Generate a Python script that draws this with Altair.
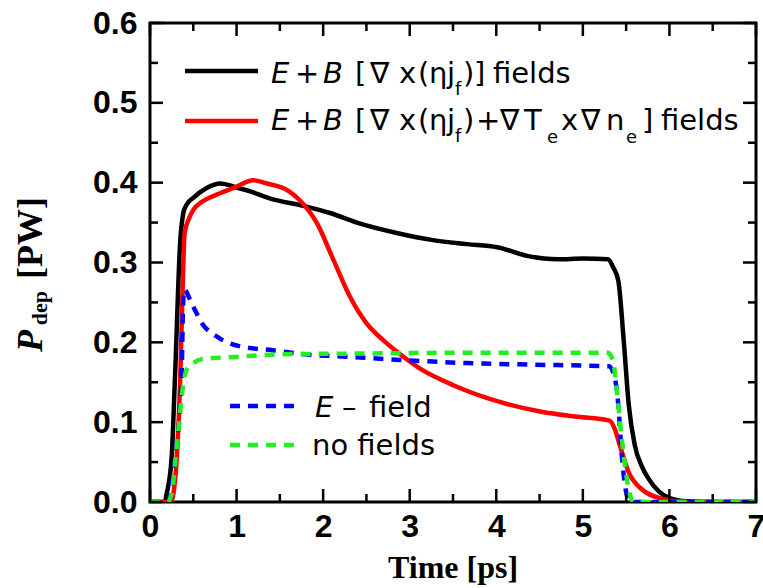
import altair as alt
import pandas as pd

# ---- data ----
t_black = [0, 0.17, 0.19, 0.25, 0.29, 0.35, 0.385, 0.42, 0.5, 0.65, 0.81, 1.0, 1.16, 1.39, 1.77, 2.08,
           2.39, 2.85, 3.27, 3.66, 4.01, 4.37, 4.71, 5.0, 5.29, 5.35, 5.41, 5.47, 5.53, 5.60, 5.68,
           5.76, 5.88, 6.0, 6.2, 6.5, 7.0]
p_black = [0, 0, 0.009, 0.056, 0.16, 0.328, 0.362, 0.372, 0.381, 0.393, 0.399, 0.394, 0.389, 0.380,
           0.371, 0.362, 0.350, 0.337, 0.328, 0.323, 0.319, 0.308, 0.304, 0.305, 0.304, 0.294, 0.277,
           0.205, 0.122, 0.071, 0.045, 0.029, 0.013, 0.005, 0.001, 0, 0]

t_red = [0, 0.24, 0.29, 0.35, 0.38, 0.40, 0.45, 0.5, 0.6, 0.77, 1.0, 1.19, 1.35, 1.58, 1.73, 1.93,
         2.12, 2.31, 2.5, 2.69, 2.89, 3.12, 3.51, 4.05, 4.52, 4.91, 5.31, 5.37, 5.43, 5.53, 5.68,
         5.92, 6.2, 7.0]
p_red = [0, 0, 0.028, 0.159, 0.28, 0.337, 0.355, 0.366, 0.376, 0.385, 0.395, 0.403, 0.399, 0.391,
         0.378, 0.349, 0.303, 0.257, 0.224, 0.203, 0.185, 0.167, 0.146, 0.125, 0.113, 0.107, 0.102,
         0.091, 0.070, 0.037, 0.016, 0.004, 0, 0]

t_blue = [0, 0.22, 0.25, 0.31, 0.35, 0.37, 0.38, 0.395, 0.48, 0.6, 0.79, 1.04, 1.42, 1.89, 2.11,
          2.89, 3.66, 4.44, 5.30, 5.37, 5.41, 5.45, 5.53, 5.6, 7.0]
p_blue = [0, 0, 0.019, 0.074, 0.124, 0.178, 0.24, 0.266, 0.249, 0.224, 0.206, 0.195, 0.190, 0.184,
          0.183, 0.178, 0.174, 0.172, 0.170, 0.155, 0.121, 0.058, 0.003, 0, 0]

t_green = [0, 0.2, 0.25, 0.29, 0.34, 0.37, 0.42, 0.5, 0.61, 1.04, 1.5, 2.5, 3.7, 5.29, 5.35, 5.39,
           5.45, 5.53, 5.58, 7.0]
p_green = [0, 0, 0.01, 0.049, 0.103, 0.136, 0.165, 0.174, 0.179, 0.182, 0.185, 0.186, 0.187, 0.187,
           0.176, 0.142, 0.079, 0.016, 0, 0]

x_ticks = [0, 1, 2, 3, 4, 5, 6, 7]
x_minor = [0.5, 1.5, 2.5, 3.5, 4.5, 5.5, 6.5]
y_ticks = [0, 0.1, 0.2, 0.3, 0.4, 0.5, 0.6]
y_minor = [0.05, 0.15, 0.25, 0.35, 0.45, 0.55]

W, H = 606, 479
xs = alt.Scale(domain=[0, 7], nice=False, zero=False)
ys = alt.Scale(domain=[0, 0.6], nice=False, zero=False)

LABEL_FONT = "Liberation Sans"
TEXT_FONT = "DejaVu Sans"
SERIF = "Liberation Serif"


def line_layer(t, p, color, dash=None):
    df = pd.DataFrame({"t": t, "p": p})
    kw = dict(color=color, strokeWidth=4.5, interpolate="monotone", clip=True)
    if dash:
        kw["strokeDash"] = dash
    return alt.Chart(df).mark_line(**kw).encode(
        x=alt.X("t:Q", scale=xs, axis=alt.Axis(values=x_ticks, format="d", title=None)),
        y=alt.Y("p:Q", scale=ys, axis=alt.Axis(values=y_ticks, format=".1f", title=None)),
    )


layers = [
    line_layer(t_black, p_black, "#000000"),
    line_layer(t_red, p_red, "#ff0000"),
    line_layer(t_blue, p_blue, "#0000ff", [10, 8]),
    line_layer(t_green, p_green, "#22ee22", [10, 8]),
]

# ---- inward ticks on all four sides ----
def xtick_layer(vals, length, top):
    df = pd.DataFrame({"v": vals})
    y0, y1 = (0, length) if top else (H, H - length)
    return alt.Chart(df).mark_rule(color="black", strokeWidth=2.5).encode(
        x=alt.X("v:Q", scale=xs), y=alt.value(y0), y2=alt.value(y1))


def ytick_layer(vals, length, right):
    df = pd.DataFrame({"v": vals})
    x0, x1 = (W, W - length) if right else (0, length)
    return alt.Chart(df).mark_rule(color="black", strokeWidth=2.5).encode(
        y=alt.Y("v:Q", scale=ys), x=alt.value(x0), x2=alt.value(x1))


for side in (False, True):
    layers.append(xtick_layer(x_ticks, 13, side))
    layers.append(xtick_layer(x_minor, 8, side))
    layers.append(ytick_layer(y_ticks, 13, side))
    layers.append(ytick_layer(y_minor, 8, side))

# ---- legend ----
OX, OY = 150, 23


def legend_line(x0, x1, y, color, dash=None):
    kw = dict(color=color, strokeWidth=4.5)
    if dash:
        kw["strokeDash"] = dash
    return alt.Chart(pd.DataFrame({"a": [0]})).mark_rule(**kw).encode(
        x=alt.value(x0 - OX), x2=alt.value(x1 - OX), y=alt.value(y - OY))


layers += [
    legend_line(185, 258, 71, "#000000"),
    legend_line(185, 258, 121, "#ff0000"),
    legend_line(230, 297, 406, "#0000ff", [10, 8]),
    legend_line(230, 297, 445, "#22ee22", [10, 8]),
]

# pieces: (text, x, y, kind)
L1, L2 = 74, 121
pieces = [
    ("E", 271, L1, "i"), ("+", 295, L1, "n"), ("B", 323, L1, "i"), ("[", 355, L1, "n"),
    ("∇", 370, L1, "n"), ("x", 399, L1, "n"), ("(", 418, L1, "n"), ("η", 429, L1, "n"),
    ("j", 447, L1, "n"), ("f", 455, L1 + 16, "s"), (")", 463, L1, "n"), ("]", 474, L1, "n"),
    ("fields", 493, L1, "n"),
    ("E", 271, L2, "i"), ("+", 295, L2, "n"), ("B", 323, L2, "i"), ("[", 355, L2, "n"),
    ("∇", 370, L2, "n"), ("x", 399, L2, "n"), ("(", 418, L2, "n"), ("η", 429, L2, "n"),
    ("j", 447, L2, "n"), ("f", 455, L2 + 16, "s"), (")", 463, L2, "n"), ("+", 476, L2, "n"),
    ("∇", 500, L2, "n"), ("T", 524, L2, "n"), ("e", 547, L2 + 17, "s"), ("x", 561, L2, "n"),
    ("∇", 581, L2, "n"), ("n", 606, L2, "n"), ("e", 626, L2 + 17, "s"), ("]", 642, L2, "n"),
    ("fields", 661, L2, "n"),
    ("E", 315, 408, "i"), ("–", 342, 408, "n"), ("field", 369, 408, "n"),
    ("no fields", 312, 446, "n"),
]
pdf = pd.DataFrame(pieces, columns=["txt", "px", "py", "kind"])
pdf["px"] = pdf["px"] - OX
pdf["py"] = pdf["py"] - OY

styles = {
    "n": dict(font=TEXT_FONT, fontSize=29),
    "i": dict(font=TEXT_FONT, fontSize=29, fontStyle="italic"),
    "s": dict(font=TEXT_FONT, fontSize=18),
}
for kind, st in styles.items():
    layers.append(
        alt.Chart(pdf[pdf["kind"] == kind]).mark_text(
            align="left", baseline="middle", color="black", **st
        ).encode(
            x=alt.X("px:Q", scale=None), y=alt.Y("py:Q", scale=None), text="txt:N"
        )
    )

# ---- axis titles ----
def label(txt, x, y, size, angle=0, style="normal"):
    kw = dict(align="center", baseline="middle", font=SERIF, fontSize=size,
              fontWeight="bold", color="black")
    if angle:
        kw["angle"] = angle
    if style != "normal":
        kw["fontStyle"] = style
    return alt.Chart(pd.DataFrame({"a": [0]})).mark_text(text=txt, **kw).encode(
        x=alt.value(x - OX), y=alt.value(y - OY))


layers += [
    label("Time [ps]", 453, 568, 32),
    label("P", 31, 341, 36, 270, "italic"),
    label("dep", 40, 308, 22, 270),
    label("[PW]", 31, 238, 36, 270),
]

chart = alt.layer(*layers).properties(
    width=W, height=H,
    padding={"left": OX, "top": OY, "right": 763 - OX - W, "bottom": 588 - OY - H},
    autosize=alt.AutoSizeParams(type="none"),
).configure_view(
    stroke="black", strokeWidth=3
).configure_axis(
    grid=False, ticks=False, domain=False,
    labelFont=LABEL_FONT, labelFontSize=32, labelFontWeight="bold", labelColor="black",
).configure_axisX(
    labelPadding=9, labelFlush=False,
).configure_axisY(
    labelPadding=13, labelFlush=False,
)

chart.save("out.html", embed_options={"renderer": "svg", "actions": False})
